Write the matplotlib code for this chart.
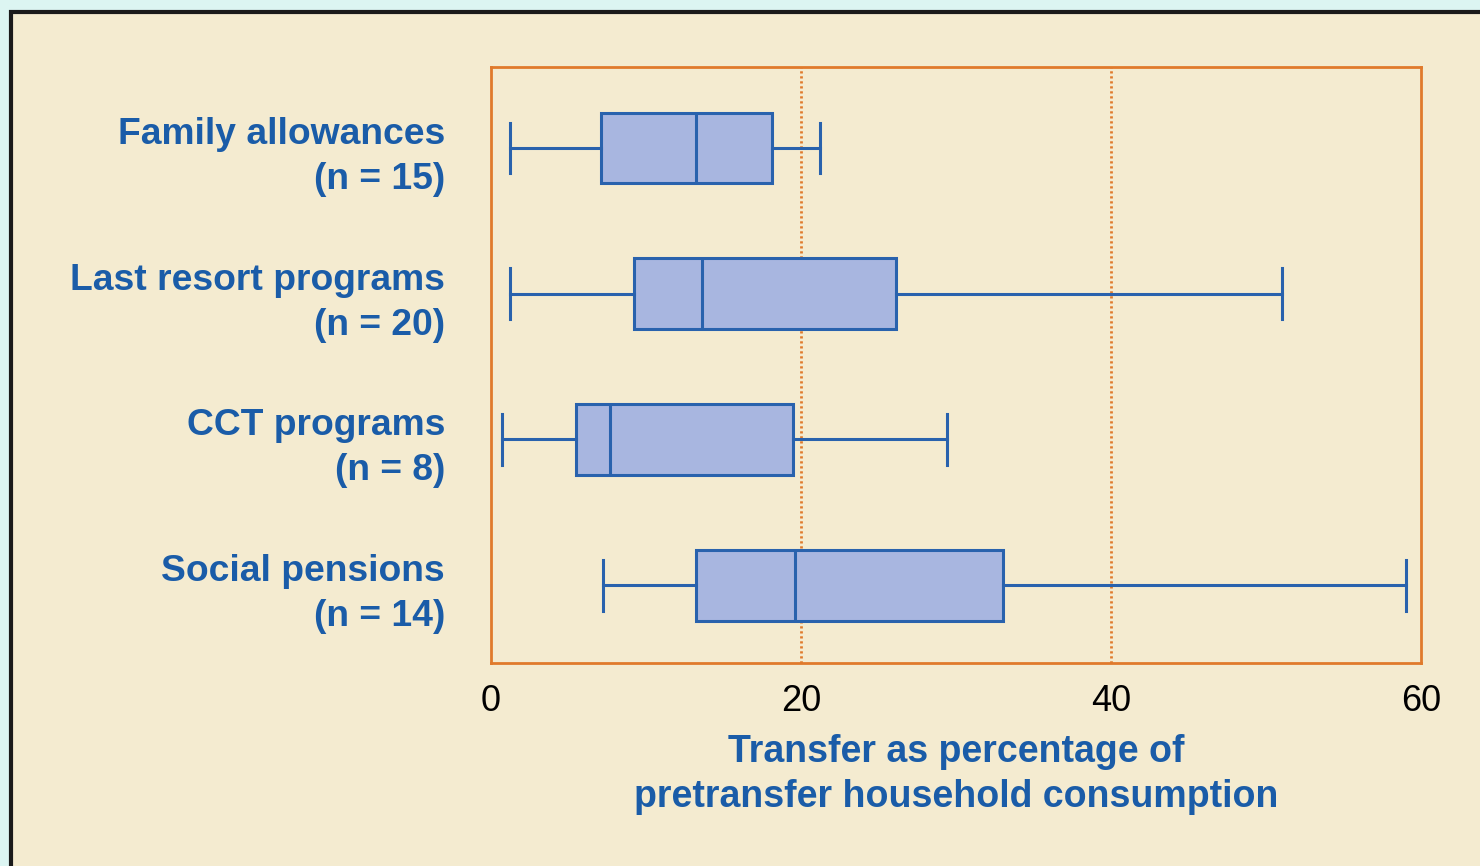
import matplotlib.pyplot as plt
from matplotlib.patches import Rectangle

plt.rcParams['font.family'] = ['Liberation Sans', 'DejaVu Sans']

programs = ["Family allowances\n(n = 15)", "Last resort programs\n(n = 20)",
            "CCT programs\n(n = 8)", "Social pensions\n(n = 14)"]
whislo = [1.2, 1.2, 0.7, 7.2]
q1 = [7.1, 9.2, 5.5, 13.2]
med = [13.2, 13.6, 7.7, 19.6]
q3 = [18.1, 26.1, 19.5, 33.0]
whishi = [21.2, 51.0, 29.4, 59.0]

blue_txt = '#1a5ca8'
edge = '#2962ad'
fill = '#a8b6e0'
orange = '#e07a2c'

fig = plt.figure(figsize=(14.8, 8.66), dpi=100, facecolor='#dcf5f2')
# cream panel with dark frame on left/top
panel = Rectangle((11 / 1480, -0.1), 1.2, 1 - 12 / 866 + 0.1,
                  transform=fig.transFigure, facecolor='#f4ebd0',
                  edgecolor='#1a1a1a', linewidth=3, zorder=-10)
fig.patches.append(panel)

ax = fig.add_axes([491 / 1480, 1 - 663 / 866, 930 / 1480, 596 / 866])
ax.set_facecolor('#f4ebd0')

stats = []
for i in range(len(programs)):
    stats.append(dict(whislo=whislo[i], q1=q1[i], med=med[i], q3=q3[i],
                      whishi=whishi[i], fliers=[]))
pos = list(range(1, len(programs) + 1))

for xv in [20, 40]:
    ax.axvline(xv, color=orange, linestyle=(0, (0.8, 1.0)), linewidth=2, zorder=1)

ax.bxp(stats, positions=pos, vert=False, widths=0.487, capwidths=0.35,
       patch_artist=True, showfliers=False,
       boxprops=dict(facecolor=fill, edgecolor=edge, linewidth=2.2),
       medianprops=dict(color=edge, linewidth=2.2),
       whiskerprops=dict(color=edge, linewidth=2.2),
       capprops=dict(color=edge, linewidth=2.2), zorder=2)

ax.set_xlim(0, 60)
ax.set_ylim(4.535, 0.444)
ax.set_xticks([0, 20, 40, 60])
ax.set_yticks([])
ax.tick_params(axis='x', length=0, pad=15, labelsize=26, labelcolor='black')
for s in ax.spines.values():
    s.set_color(orange)
    s.set_linewidth(2)

for p, lab in zip(pos, programs):
    ax.annotate(lab, xy=(0, p), xycoords=('axes fraction', 'data'),
                xytext=(-46, -9), textcoords='offset pixels',
                ha='right', va='center', fontsize=26.8, fontweight='bold',
                color=blue_txt, linespacing=1.37)

ax.set_xlabel("Transfer as percentage of\npretransfer household consumption",
              fontsize=27, fontweight='bold', color=blue_txt, labelpad=11,
              linespacing=1.3)

fig.savefig('out.png', dpi=100, facecolor=fig.get_facecolor())
